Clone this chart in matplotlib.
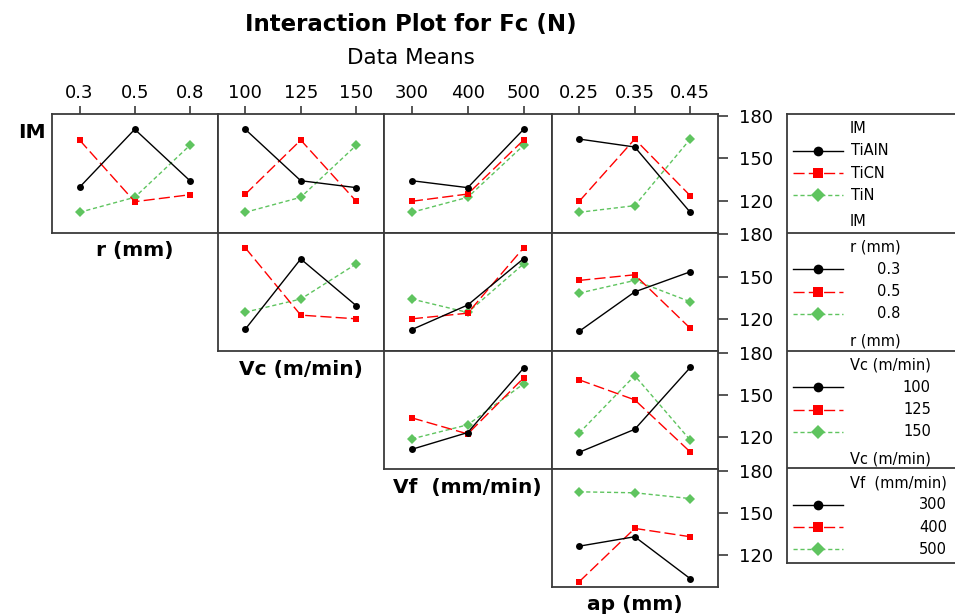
import matplotlib
matplotlib.use("Agg")
import matplotlib.pyplot as plt
from matplotlib.lines import Line2D

# ---------------- data ----------------
im_levels = ["TiAlN", "TiCN", "TiN"]
r_levels = ["0.3", "0.5", "0.8"]
vc_levels = ["100", "125", "150"]
vf_levels = ["300", "400", "500"]
ap_levels = ["0.25", "0.35", "0.45"]

row_names = ["IM", "r (mm)", "Vc (m/min)", "Vf  (mm/min)"]
col_names = ["r (mm)", "Vc (m/min)", "Vf  (mm/min)", "ap (mm)"]

# means: one list per level of the row factor, values over the column factor levels
im_r = [[129.5, 170.4, 134.1], [162.8, 119.3, 124.2], [111.8, 122.4, 159.1]]
im_vc = [[170.4, 134.1, 129.2], [124.5, 162.8, 119.6], [111.8, 122.4, 159.1]]
im_vf = [[134.1, 129.2, 170.4], [119.6, 124.7, 162.8], [111.8, 122.4, 159.1]]
im_ap = [[163.5, 157.9, 111.8], [119.6, 163.5, 123.5], [111.8, 116.5, 163.5]]
r_vc = [[112.8, 162.6, 129.5], [170.5, 122.8, 120.2], [124.9, 134.2, 159.1]]
r_vf = [[112.6, 130.0, 162.8], [120.2, 124.2, 170.5], [134.2, 124.7, 159.1]]
r_ap = [[111.4, 139.3, 153.5], [147.4, 151.4, 113.5], [138.4, 147.4, 132.3]]
vc_vf = [[111.4, 123.3, 169.1], [133.7, 122.3, 162.1], [118.8, 128.8, 157.9]]
vc_ap = [[109.3, 125.6, 169.5], [160.7, 146.5, 109.5], [123.0, 163.7, 117.9]]
vf_ap = [[126.4, 133.1, 103.3], [101.2, 139.0, 133.1], [165.0, 164.3, 160.2]]

y_ticks = [120, 150, 180]

row_levels = [im_levels, r_levels, vc_levels, vf_levels]
col_levels = [r_levels, vc_levels, vf_levels, ap_levels]
panels = {
    (0, 0): im_r, (0, 1): im_vc, (0, 2): im_vf, (0, 3): im_ap,
    (1, 1): r_vc, (1, 2): r_vf, (1, 3): r_ap,
    (2, 2): vc_vf, (2, 3): vc_ap,
    (3, 3): vf_ap,
}

# ---------------- styles ----------------
colors = ["#000000", "#FF0000", "#5FC45F"]
markers = ["o", "s", "D"]
msizes = [5, 5, 5]
lstyles = ["-", (0, (8, 3)), (0, (3, 2))]
frame_c = "#3a3a3a"
FONT = "DejaVu Sans"
plt.rcParams["font.family"] = FONT

W, H = 955, 616
fig = plt.figure(figsize=(W / 100, H / 100), dpi=100)

col_edges = [52, 217.5, 384, 551.5, 718]
row_edges = [114, 232.7, 351, 469, 587]


def add_ax(x0, x1, y0, y1):
    return fig.add_axes([x0 / W, 1 - y1 / H, (x1 - x0) / W, (y1 - y0) / H])


for (i, j), vals in panels.items():
    ax = add_ax(col_edges[j], col_edges[j + 1], row_edges[i], row_edges[i + 1])
    xs = list(range(len(col_levels[j])))
    for k, series in enumerate(vals):
        ax.plot(xs, series, color=colors[k], linestyle=lstyles[k], lw=1.0,
                marker=markers[k], markersize=msizes[k],
                markeredgewidth=0, zorder=3 - k * 0.1)
    ax.set_xlim(-0.5, 2.5)
    ax.set_ylim(97.4, 181.2)
    for s in ax.spines.values():
        s.set_color(frame_c)
        s.set_linewidth(1.3)
    if i == 0:
        ax.xaxis.tick_top()
        ax.set_xticks(xs)
        ax.set_xticklabels(col_levels[j], fontsize=13)
        ax.tick_params(axis="x", direction="out", length=6, width=1.2,
                       color=frame_c, pad=3)
    else:
        ax.set_xticks([])
    if j == 3:
        ax.yaxis.tick_right()
        ax.set_yticks(y_ticks)
        ax.set_yticklabels([str(t) for t in y_ticks], fontsize=13)
        ax.tick_params(axis="y", direction="out", length=7, width=1.2,
                       color=frame_c, pad=8)
    else:
        ax.set_yticks([])

# ---------------- titles and factor labels ----------------
fig.text(411 / W, 1 - 25 / H, "Interaction Plot for Fc (N)", ha="center",
         va="center", fontsize=16.5, fontweight="bold")
fig.text(411 / W, 1 - 58 / H, "Data Means", ha="center", va="center",
         fontsize=15.5)
fig.text(32 / W, 1 - 133 / H, row_names[0], ha="center", va="center",
         fontsize=14.5, fontweight="bold")
label_y = [250, 369, 488, 605]
for j in range(4):
    cx = (col_edges[j] + col_edges[j + 1]) / 2
    fig.text(cx / W, 1 - label_y[j] / H, col_names[j], ha="center",
             va="center", fontsize=14.5, fontweight="bold")

# ---------------- legend ----------------
lx0, lx1, ly0, ly1 = 787, 957, 114, 563
lax = add_ax(lx0, lx1, ly0, ly1)
lax.set_xlim(lx0, lx1)
lax.set_ylim(ly1, ly0)
lax.set_xticks([])
lax.set_yticks([])
for s in lax.spines.values():
    s.set_color(frame_c)
    s.set_linewidth(1.3)

sec_tops = [114, 232.7, 350.7, 468.3]
for t in sec_tops[1:]:
    lax.axhline(t, color=frame_c, lw=1.3)

legend_titles = ["IM", "r (mm)", "Vc (m/min)", "Vf  (mm/min)"]
fig.canvas.draw()
renderer = fig.canvas.get_renderer()
lfs = 10.5
for s, top in enumerate(sec_tops):
    title = lax.text(850, top + 14.5, legend_titles[s], ha="left", va="center",
                     fontsize=lfs)
    bb = title.get_window_extent(renderer=renderer)
    inv = lax.transData.inverted()
    right_x = inv.transform((bb.x1, bb.y0))[0]
    for k, lab in enumerate(row_levels[s]):
        yy = top + [36.5, 59, 81][k]
        lax.add_line(Line2D([793, 843], [yy, yy], color=colors[k],
                            linestyle=lstyles[k], lw=1.0))
        lax.plot([818], [yy], marker=markers[k], color=colors[k],
                 markersize=7, markeredgewidth=0)
        if s == 0:
            lax.text(851, yy, lab, ha="left", va="center", fontsize=lfs)
        else:
            lax.text(right_x, yy, lab, ha="right", va="center", fontsize=lfs)
    if s < 3:
        lax.text(850, top + 108, legend_titles[s], ha="left", va="center",
                 fontsize=lfs)

fig.savefig("out.png", dpi=100)
